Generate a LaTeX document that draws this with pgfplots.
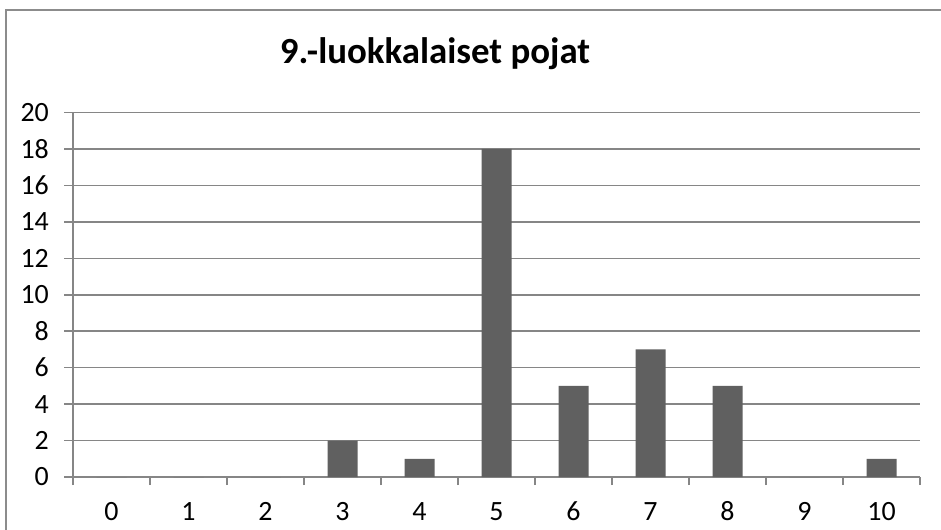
\documentclass[border=0pt]{standalone}
\usepackage{pgfplots}
\pgfplotsset{compat=1.18}
\usepackage{fontspec}
\setmainfont{Carlito}
\definecolor{gridgray}{RGB}{134,134,134}
\definecolor{bargray}{RGB}{96,96,96}
\definecolor{framegray}{RGB}{140,140,140}
\begin{document}
\begin{tikzpicture}
\useasboundingbox (0,0) rectangle (941bp,-530bp);
\clip (0,0) rectangle (941bp,-530bp);
\fill[white] (0,0) rectangle (941bp,-530bp);
\draw[framegray, line width=1.5bp] (6bp,-10bp) rectangle (1100bp,-700bp);
\node[anchor=base, font=\fontsize{37}{44}\selectfont\bfseries, inner sep=0pt] at (435bp,-63bp) {9.-luokkalaiset pojat};
\begin{axis}[
  at={(73bp,-477bp)}, anchor=south west,
  width=847bp, height=364.5bp, scale only axis,
  xmin=-0.5, xmax=10.5, ymin=0, ymax=20,
  axis x line=bottom, axis y line=left,
  axis line style={-, gridgray, line width=1.5bp},
  xtick={0,...,10},
  minor xtick={-0.5,0.5,...,10.5},
  ytick={0,2,...,20},
  major x tick style={draw=none},
  minor tick length=8bp,
  major tick length=9bp,
  tick align=outside,
  tick style={gridgray, line width=1.5bp},
  ymajorgrids,
  major grid style={gridgray, line width=1.5bp},
  /pgf/number format/assume math mode=true,
  tick label style={font=\fontsize{28}{33}\selectfont, inner sep=0pt},
  xticklabel style={anchor=base, yshift=-34bp},
  yticklabel style={anchor=east, xshift=-15bp},
  ybar, bar width=30bp,
]
\addplot[fill=bargray, draw=none] coordinates {
  (0,0) (1,0) (2,0) (3,2) (4,1) (5,18) (6,5) (7,7) (8,5) (9,0) (10,1)
};
\end{axis}
\end{tikzpicture}
\end{document}
